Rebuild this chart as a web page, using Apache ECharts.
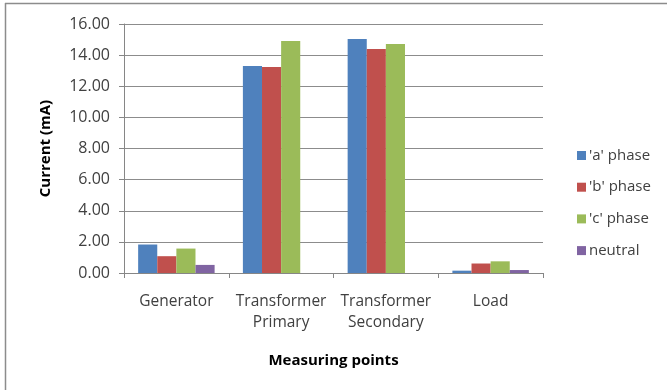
<!DOCTYPE html>
<html>
<head>
<meta charset="utf-8">
<script src="https://cdn.jsdelivr.net/npm/echarts@6/dist/echarts.min.js"></script>
<style>
  html, body { margin: 0; padding: 0; background: #fff; }
  #chart { width: 667px; height: 390px; }
</style>
</head>
<body>
<div id="chart"></div>
<script>
// Measured phase currents (mA) at each point of the circuit
const categories = ['Generator', 'Transformer\nPrimary', 'Transformer\nSecondary', 'Load'];
const phaseA = [1.83, 13.30, 15.04, 0.15];
const phaseB = [1.08, 13.23, 14.39, 0.61];
const phaseC = [1.57, 14.91, 14.72, 0.75];
const neutral = [0.52, 0, 0, 0.19];
const seriesNames = ["'a' phase", "'b' phase", "'c' phase", 'neutral'];
const yTicks = { min: 0, max: 16, interval: 2 };

const palette = ['#4F81BD', '#C0504D', '#9BBB59', '#8064A2'];
const FONT = 'Open Sans';

const chart = echarts.init(document.getElementById('chart'), null, { renderer: 'canvas' });

const values = [phaseA, phaseB, phaseC, neutral];

chart.setOption({
  animation: false,
  backgroundColor: '#ffffff',
  color: palette,
  textStyle: { fontFamily: FONT },
  grid: { left: 124, right: 124, top: 24, bottom: 117, containLabel: false },
  graphic: [
    { type: 'line', shape: { x1: 5, y1: 3.5, x2: 667, y2: 3.5 }, style: { stroke: '#8c8c8c', lineWidth: 1.5 } },
    { type: 'line', shape: { x1: 5.5, y1: 3, x2: 5.5, y2: 390 }, style: { stroke: '#8c8c8c', lineWidth: 1.5 } }
  ],
  legend: {
    orient: 'vertical',
    left: 572,
    top: 142,
    itemWidth: 9,
    itemHeight: 9,
    itemGap: 14.7,
    icon: 'rect',
    data: seriesNames,
    textStyle: { fontFamily: FONT, fontSize: 15, color: '#404040', lineHeight: 17, padding: [0, 0, 0, -2] }
  },
  xAxis: {
    type: 'category',
    data: categories,
    name: 'Measuring points',
    nameLocation: 'middle',
    nameGap: 80,
    nameTextStyle: { fontFamily: FONT, fontSize: 15, fontWeight: 'bold', color: '#000' },
    axisLine: { lineStyle: { color: '#868686', width: 1 } },
    axisTick: { show: true, length: 5, lineStyle: { color: '#868686' } },
    axisLabel: { fontFamily: FONT, fontSize: 15.5, color: '#404040', lineHeight: 21, margin: 18, interval: 0 }
  },
  yAxis: {
    type: 'value',
    min: yTicks.min,
    max: yTicks.max,
    interval: yTicks.interval,
    name: 'Current (mA)',
    nameLocation: 'middle',
    nameRotate: 90,
    nameGap: 71,
    nameTextStyle: { fontFamily: FONT, fontSize: 15, fontWeight: 'bold', color: '#000' },
    axisLine: { show: true, lineStyle: { color: '#868686', width: 1 } },
    axisTick: { show: true, length: 5, lineStyle: { color: '#868686' } },
    axisLabel: { fontFamily: FONT, fontSize: 16, color: '#404040', margin: 14, formatter: v => v.toFixed(2) },
    splitLine: { lineStyle: { color: '#8c8c8c', width: 1 } }
  },
  series: seriesNames.map((name, i) => ({
    name,
    type: 'bar',
    data: values[i],
    barGap: '0%',
    barCategoryGap: '27%',
    itemStyle: { color: palette[i] }
  }))
});
</script>
</body>
</html>
